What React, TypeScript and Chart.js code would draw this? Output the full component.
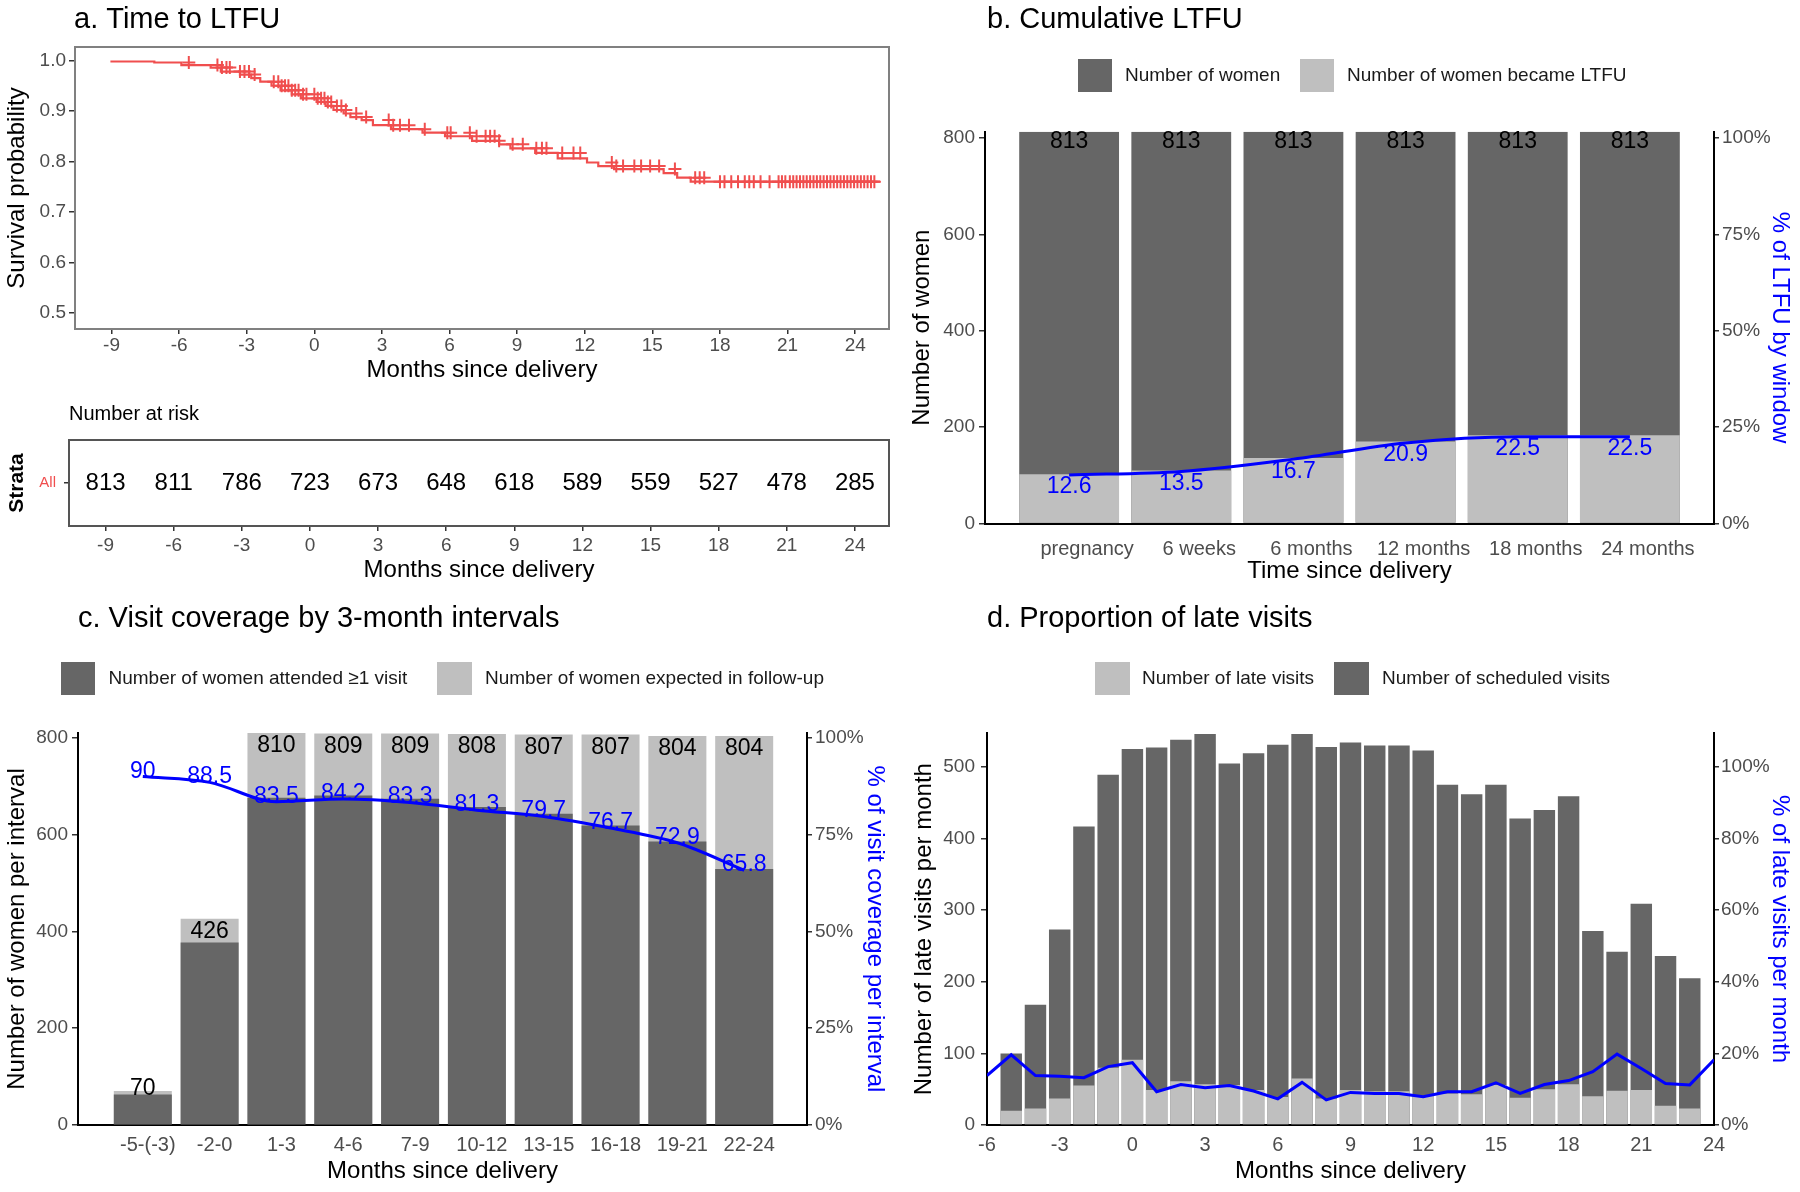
import React, { useEffect, useRef } from "react";
import { Chart, registerables } from "chart.js";
Chart.register(...registerables);

const FONT = "'Liberation Sans', Arial, Helvetica, sans-serif";
Chart.defaults.font.family = FONT;

// ---------------- a. Time to LTFU ----------------
const survTimes = [-9, -7.1, -5.9, -4.6, -4.15, -3.3, -2.8, -2.4, -1.9, -1.5, -1.0, -0.6, 0.1, 0.5, 0.85, 1.3, 1.6, 2.1, 2.6, 3.4, 4.8, 5.8, 7.0, 8.2, 8.7, 9.8, 10.8, 12.1, 12.6, 13.3, 15.5, 16.1, 16.7, 17.6, 25.1];
const survProb = [1.0, 0.998, 0.996, 0.991, 0.986, 0.978, 0.972, 0.965, 0.958, 0.95, 0.941, 0.933, 0.925, 0.918, 0.91, 0.902, 0.895, 0.888, 0.882, 0.872, 0.864, 0.857, 0.85, 0.841, 0.834, 0.826, 0.817, 0.806, 0.798, 0.791, 0.785, 0.777, 0.768, 0.76, 0.76];
const censorTimes = [-5.57, -4.3, -4.1, -3.9, -3.75, -3.3, -3.1, -2.9, -2.65, -1.8, -1.6, -1.45, -1.3, -1.15, -1.0, -0.85, -0.7, -0.5, -0.35, 0.0, 0.15, 0.3, 0.45, 0.6, 0.75, 1.0, 1.2, 1.4, 1.86, 2.3, 3.3, 3.5, 3.8, 4.2, 4.9, 5.9, 6.05, 6.9, 7.2, 7.6, 7.8, 8.0, 8.2, 8.8, 9.25, 9.85, 10.1, 10.3, 11.0, 11.5, 11.8, 13.2, 13.4, 13.7, 14.2, 14.5, 14.9, 15.3, 16.0, 16.9, 17.1, 17.3, 18.0, 18.2, 18.5, 18.8, 19.1, 19.3, 19.5, 19.8, 20.2, 20.6, 20.75, 20.9, 21.1, 21.25, 21.4, 21.55, 21.7, 21.85, 22.0, 22.15, 22.3, 22.45, 22.6, 22.75, 22.9, 23.05, 23.2, 23.35, 23.5, 23.65, 23.8, 23.95, 24.1, 24.25, 24.4, 24.55, 24.7, 24.85];
const monthTicksA = [-9, -6, -3, 0, 3, 6, 9, 12, 15, 18, 21, 24];
const survTicks = [0.5, 0.6, 0.7, 0.8, 0.9, 1.0];
const riskTimes = [-9, -6, -3, 0, 3, 6, 9, 12, 15, 18, 21, 24];
const riskCounts = [813, 811, 786, 723, 673, 648, 618, 589, 559, 527, 478, 285];

// ---------------- b. Cumulative LTFU ----------------
const ltfuWindows = ["pregnancy", "6 weeks", "6 months", "12 months", "18 months", "24 months"];
const ltfuTotal = [813, 813, 813, 813, 813, 813];
const ltfuCount = [102, 110, 136, 170, 183, 183];
const ltfuPct = [12.6, 13.5, 16.7, 20.9, 22.5, 22.5];
const ticksB = [0, 200, 400, 600, 800];
const pctTicksB = [0, 25, 50, 75, 100];

// ---------------- c. Visit coverage ----------------
const intervalLabels = ["-5-(-3)", "-2-0", "1-3", "4-6", "7-9", "10-12", "13-15", "16-18", "19-21", "22-24"];
const expectedWomen = [70, 426, 810, 809, 809, 808, 807, 807, 804, 804];
const attendedWomen = [63, 377, 676, 681, 674, 657, 643, 619, 586, 529];
const coveragePct = [90, 88.5, 83.5, 84.2, 83.3, 81.3, 79.7, 76.7, 72.9, 65.8];
const ticksC = [0, 200, 400, 600, 800];
const pctTicksC = [0, 25, 50, 75, 100];

// ---------------- d. Late visits ----------------
const visitMonths = [-5, -4, -3, -2, -1, 0, 1, 2, 3, 4, 5, 6, 7, 8, 9, 10, 11, 12, 13, 14, 15, 16, 17, 18, 19, 20, 21, 22, 23];
const scheduledVisits = [100, 168, 273, 417, 489, 525, 527, 538, 546, 505, 519, 531, 546, 528, 534, 530, 530, 523, 475, 462, 475, 428, 440, 459, 271, 242, 309, 236, 205];
const lateVisits = [20, 23, 37, 55, 80, 91, 49, 61, 57, 56, 49, 39, 65, 37, 49, 47, 47, 41, 44, 43, 56, 38, 50, 57, 40, 48, 49, 27, 23];
const pctMonths = [-6, -5, -4, -3, -2, -1, 0, 1, 2, 3, 4, 5, 6, 7, 8, 9, 10, 11, 12, 13, 14, 15, 16, 17, 18, 19, 20, 21, 22, 23, 24];
const latePct = [13.8, 19.6, 13.8, 13.6, 13.2, 16.3, 17.4, 9.3, 11.3, 10.4, 11.0, 9.5, 7.3, 11.9, 7.0, 9.1, 8.8, 8.8, 7.9, 9.3, 9.3, 11.8, 8.8, 11.3, 12.4, 14.9, 19.8, 15.8, 11.6, 11.2, 18.2];
const monthTicksD = [-6, -3, 0, 3, 6, 9, 12, 15, 18, 21, 24];
const ticksD = [0, 100, 200, 300, 400, 500];
const pctTicksD = [0, 20, 40, 60, 80, 100];

// ---------------- styles ----------------
const DARK = "#666666";
const LIGHT = "#BFBFBF";
const BLUE = "#0000FF";
const RED = "#F04E4E";
const TICK = "#4D4D4D";

const fixW = (w: number) => (s: any) => { s.width = w; };
const fixH = (h: number) => (s: any) => { s.height = h; };
const setTicks = (vals: number[]) => (s: any) => { s.ticks = vals.map((v) => ({ value: v })); };
const tickGrid = (len: number) => ({ display: true, drawOnChartArea: false, drawTicks: true, tickLength: len, color: "#333333", lineWidth: 1.5 });
const noGrid = { display: false, drawTicks: false };
const axisBorder = { display: true, color: "#000000", width: 2 };

function survAt(t: number) {
  let s = survProb[0];
  for (let i = 0; i < survTimes.length; i++) if (survTimes[i] <= t) s = survProb[i];
  return s;
}

function text(ctx: any, s: string, x: number, y: number, size: number, color: string, align = "left", baseline = "middle", weight = "normal") {
  ctx.save();
  ctx.font = `${weight} ${size}px ${FONT}`;
  ctx.fillStyle = color;
  ctx.textAlign = align;
  ctx.textBaseline = baseline;
  ctx.fillText(s, x, y);
  ctx.restore();
}

function drawLegend(chart: any, items: { ds: number; box: number[]; tx: number }[]) {
  const ctx = chart.ctx;
  items.forEach((it) => {
    const ds = chart.data.datasets[it.ds];
    ctx.save();
    ctx.fillStyle = ds.backgroundColor;
    ctx.fillRect(it.box[0], it.box[1], it.box[2], it.box[3]);
    ctx.restore();
    text(ctx, ds.label, it.tx, it.box[1] + it.box[3] / 2, 19, "#1a1a1a");
  });
}

const baseOpts = (padding: any) => ({
  responsive: false,
  animation: false,
  devicePixelRatio: 1,
  layout: { padding },
  plugins: { legend: { display: false }, tooltip: { enabled: false }, title: { display: false } },
});

// ---------- a: survival ----------
function makeA(): any {
  return {
    type: "line",
    data: {
      datasets: [
        { label: "All", data: survTimes.map((t, i) => ({ x: t, y: survProb[i] })), stepped: "after", borderColor: RED, borderWidth: 2.2, pointRadius: 0, fill: false },
        { label: "censor", data: censorTimes.map((t) => ({ x: t, y: survAt(t) })), showLine: false, pointStyle: "cross", pointRadius: 6.5, pointBorderWidth: 2, pointBorderColor: RED, borderColor: RED, backgroundColor: RED },
      ],
    },
    options: {
      ...baseOpts({ left: 0, top: 47, right: 11, bottom: 0 }),
      scales: {
        x: {
          type: "linear", min: -10.62, max: 25.5, afterBuildTicks: setTicks(monthTicksA), afterFit: fixH(63),
          grid: tickGrid(5), border: { display: false },
          ticks: { font: { size: 19 }, color: TICK, padding: 0, maxRotation: 0, autoSkip: false },
          title: { display: true, text: "Months since delivery", font: { size: 24 }, color: "#000", padding: { top: 0, bottom: 7.6 } },
        },
        y: {
          type: "linear", min: 0.4683, max: 1.0267, afterBuildTicks: setTicks(survTicks), afterFit: fixW(75),
          grid: tickGrid(6), border: { display: false },
          ticks: { font: { size: 19 }, color: TICK, padding: 3, callback: (v: any) => Number(v).toFixed(1) },
          title: { display: true, text: "Survival probability", font: { size: 24 }, color: "#000", padding: { top: 2.6, bottom: 0 } },
        },
      },
    },
    plugins: [{
      id: "decorA",
      afterDraw(chart: any) {
        const { ctx, chartArea: a } = chart;
        ctx.save();
        ctx.strokeStyle = "#808080";
        ctx.lineWidth = 2;
        ctx.strokeRect(a.left, a.top, a.right - a.left, a.bottom - a.top);
        ctx.restore();
        text(ctx, "a. Time to LTFU", 74, 20, 29, "#000");
      },
    }],
  };
}

// ---------- a: risk table ----------
function makeT(): any {
  return {
    type: "scatter",
    data: { datasets: [{ label: "risk", data: riskTimes.map((t) => ({ x: t, y: "All" })), pointRadius: 0 }] },
    options: {
      ...baseOpts({ left: 0, top: 48, right: 11, bottom: 0 }),
      scales: {
        x: {
          type: "linear", min: -10.61, max: 25.5, afterBuildTicks: setTicks(monthTicksA), afterFit: fixH(70),
          grid: tickGrid(5), border: { display: false },
          ticks: { font: { size: 19 }, color: TICK, padding: 3, maxRotation: 0, autoSkip: false },
          title: { display: true, text: "Months since delivery", font: { size: 24 }, color: "#000", padding: { top: 0, bottom: 11 } },
        },
        y: {
          type: "category", labels: ["All"], offset: true, afterFit: fixW(69),
          grid: tickGrid(5), border: { display: false },
          ticks: { font: { size: 15 }, color: RED, padding: 8 },
          title: { display: true, text: "Strata", font: { size: 21, weight: "bold" }, color: "#000", padding: { top: 4.4, bottom: 0 } },
        },
      },
    },
    plugins: [{
      id: "decorT",
      afterDraw(chart: any) {
        const { ctx, chartArea: a } = chart;
        ctx.save();
        ctx.strokeStyle = "#555555";
        ctx.lineWidth = 2;
        ctx.strokeRect(a.left, a.top, a.right - a.left, a.bottom - a.top);
        ctx.restore();
        const meta = chart.getDatasetMeta(0);
        meta.data.forEach((pt: any, i: number) => text(ctx, String(riskCounts[i]), pt.x, pt.y, 24, "#000", "center", "middle"));
        text(ctx, "Number at risk", 69, 22, 20, "#000");
      },
    }],
  };
}

// ---------- b ----------
function makeB(): any {
  return {
    type: "bar",
    data: {
      datasets: [
        { type: "line", label: "% of LTFU", data: ltfuPct.map((p, i) => ({ x: i, y: p })), yAxisID: "y1", borderColor: BLUE, borderWidth: 3, pointRadius: 0, tension: 0.4, cubicInterpolationMode: "monotone", order: 0 },
        { label: "Number of women", data: ltfuTotal.map((v, i) => ({ x: i, y: v })), backgroundColor: DARK, order: 3 },
        { label: "Number of women became LTFU", data: ltfuCount.map((v, i) => ({ x: i, y: v })), backgroundColor: LIGHT, order: 2 },
      ],
    },
    options: {
      ...baseOpts({ left: 0, top: 131.7, right: 0, bottom: 0 }),
      datasets: { bar: { grouped: false, barPercentage: 1, categoryPercentage: 0.89 } },
      scales: {
        x: {
          type: "linear", min: -0.75, max: 5.75, offset: false, z: 1, afterBuildTicks: setTicks(ltfuWindows.map((_, i) => i)), afterFit: fixH(72.5),
          grid: noGrid, border: axisBorder,
          ticks: { font: { size: 20 }, color: TICK, padding: 13.5, labelOffset: 18, maxRotation: 0, autoSkip: false, callback: (v: any) => ltfuWindows[v] ?? "" },
          title: { display: true, text: "Time since delivery", font: { size: 24 }, color: "#000", padding: { top: 0, bottom: 10.6 } },
        },
        y: {
          type: "linear", position: "left", min: 0, max: 813, afterBuildTicks: setTicks(ticksB), afterFit: fixW(85),
          grid: tickGrid(6), border: axisBorder,
          ticks: { font: { size: 19 }, color: TICK, padding: 4 },
          title: { display: true, text: "Number of women", font: { size: 24 }, color: "#000", padding: { top: 7.6, bottom: 0 } },
        },
        y1: {
          type: "linear", position: "right", min: 0, max: 101.625, afterBuildTicks: setTicks(pctTicksB), afterFit: fixW(86),
          grid: tickGrid(5), border: axisBorder,
          ticks: { font: { size: 19 }, color: TICK, padding: 3, callback: (v: any) => v + "%" },
          title: { display: true, text: "% of LTFU by window", font: { size: 24 }, color: BLUE, padding: { top: 5.6, bottom: 0 } },
        },
      },
    },
    plugins: [{
      id: "decorB",
      afterDatasetsDraw(chart: any) {
        const ctx = chart.ctx;
        chart.getDatasetMeta(1).data.forEach((el: any, i: number) => text(ctx, String(ltfuTotal[i]), el.x, el.y + 16.5, 23, "#000", "center", "alphabetic"));
        chart.getDatasetMeta(0).data.forEach((el: any, i: number) => text(ctx, String(ltfuPct[i]), el.x, el.y + 18.5, 23, BLUE, "center", "alphabetic"));
      },
      afterDraw(chart: any) {
        text(chart.ctx, "b. Cumulative LTFU", 87, 20, 29, "#000");
        drawLegend(chart, [{ ds: 1, box: [178, 59, 34, 33], tx: 225 }, { ds: 2, box: [400, 59, 34, 33], tx: 447 }]);
      },
    }],
  };
}

// ---------- c ----------
function makeC(): any {
  return {
    type: "bar",
    data: {
      datasets: [
        { type: "line", label: "% of visit coverage", data: coveragePct.map((p, i) => ({ x: i, y: p })), yAxisID: "y1", borderColor: BLUE, borderWidth: 3, pointRadius: 0, tension: 0.4, cubicInterpolationMode: "monotone", order: 0 },
        { label: "Number of women attended \u22651 visit", data: attendedWomen.map((v, i) => ({ x: i, y: v })), backgroundColor: DARK, order: 2 },
        { label: "Number of women expected in follow-up", data: expectedWomen.map((v, i) => ({ x: i, y: v })), backgroundColor: LIGHT, order: 3 },
      ],
    },
    options: {
      ...baseOpts({ left: 0, top: 137, right: 0, bottom: 0 }),
      datasets: { bar: { grouped: false, barPercentage: 1, categoryPercentage: 0.868 } },
      scales: {
        x: {
          type: "linear", min: -0.97, max: 9.94, offset: false, z: 1, afterBuildTicks: setTicks(intervalLabels.map((_, i) => i)), afterFit: fixH(67),
          grid: noGrid, border: axisBorder,
          ticks: { font: { size: 20 }, color: TICK, padding: 8, labelOffset: 5, maxRotation: 0, autoSkip: false, callback: (v: any) => intervalLabels[v] ?? "" },
          title: { display: true, text: "Months since delivery", font: { size: 24 }, color: "#000", padding: { top: 0, bottom: 6.6 } },
        },
        y: {
          type: "linear", position: "left", min: 0, max: 810, afterBuildTicks: setTicks(ticksC), afterFit: fixW(78),
          grid: tickGrid(6), border: axisBorder,
          ticks: { font: { size: 19 }, color: TICK, padding: 4 },
          title: { display: true, text: "Number of women per interval", font: { size: 24 }, color: "#000", padding: { top: 2.6, bottom: 0 } },
        },
        y1: {
          type: "linear", position: "right", min: 0, max: 101.25, afterBuildTicks: setTicks(pctTicksC), afterFit: fixW(93),
          grid: tickGrid(5), border: axisBorder,
          ticks: { font: { size: 19 }, color: TICK, padding: 3, callback: (v: any) => v + "%" },
          title: { display: true, text: "% of visit coverage per interval", font: { size: 24 }, color: BLUE, padding: { top: 10.6, bottom: 0 } },
        },
      },
    },
    plugins: [{
      id: "decorC",
      afterDatasetsDraw(chart: any) {
        const ctx = chart.ctx;
        const ys = chart.scales.y;
        chart.getDatasetMeta(2).data.forEach((el: any, i: number) => {
          const yv = Math.max(expectedWomen[i] - 40, attendedWomen[i]);
          text(ctx, String(expectedWomen[i]), el.x, ys.getPixelForValue(yv), 23, "#000", "center", "alphabetic");
        });
        chart.getDatasetMeta(0).data.forEach((el: any, i: number) => text(ctx, String(coveragePct[i]), el.x, el.y + 1, 23, BLUE, "center", "alphabetic"));
      },
      afterDraw(chart: any) {
        text(chart.ctx, "c. Visit coverage by 3-month intervals", 78, 23, 29, "#000");
        drawLegend(chart, [{ ds: 1, box: [61, 66, 34, 33], tx: 108.5 }, { ds: 2, box: [437, 66, 35, 33], tx: 485 }]);
      },
    }],
  };
}

// ---------- d ----------
function makeD(): any {
  return {
    type: "bar",
    data: {
      datasets: [
        { type: "line", label: "% of late visits", data: latePct.map((p, i) => ({ x: pctMonths[i], y: p })), yAxisID: "y1", borderColor: BLUE, borderWidth: 3, pointRadius: 0, tension: 0, order: 0 },
        { label: "Number of late visits", data: lateVisits.map((v, i) => ({ x: visitMonths[i], y: v })), backgroundColor: LIGHT, order: 2 },
        { label: "Number of scheduled visits", data: scheduledVisits.map((v, i) => ({ x: visitMonths[i], y: v })), backgroundColor: DARK, order: 3 },
      ],
    },
    options: {
      ...baseOpts({ left: 0, top: 137.3, right: 0, bottom: 0 }),
      datasets: { bar: { grouped: false, barPercentage: 1, categoryPercentage: 0.885 } },
      scales: {
        x: {
          type: "linear", min: -6, max: 24, offset: false, z: 1, afterBuildTicks: setTicks(monthTicksD), afterFit: fixH(67),
          grid: noGrid, border: axisBorder,
          ticks: { font: { size: 20 }, color: TICK, padding: 8, maxRotation: 0, autoSkip: false },
          title: { display: true, text: "Months since delivery", font: { size: 24 }, color: "#000", padding: { top: 0, bottom: 6.6 } },
        },
        y: {
          type: "linear", position: "left", min: 0, max: 547, afterBuildTicks: setTicks(ticksD), afterFit: fixW(87),
          grid: tickGrid(6), border: axisBorder,
          ticks: { font: { size: 19 }, color: TICK, padding: 6 },
          title: { display: true, text: "Number of late visits per month", font: { size: 24 }, color: "#000", padding: { top: 9.6, bottom: 0 } },
        },
        y1: {
          type: "linear", position: "right", min: 0, max: 109.4, afterBuildTicks: setTicks(pctTicksD), afterFit: fixW(86),
          grid: tickGrid(5), border: axisBorder,
          ticks: { font: { size: 19 }, color: TICK, padding: 2, callback: (v: any) => v + "%" },
          title: { display: true, text: "% of late visits per month", font: { size: 24 }, color: BLUE, padding: { top: 5.6, bottom: 0 } },
        },
      },
    },
    plugins: [{
      id: "decorD",
      afterDraw(chart: any) {
        text(chart.ctx, "d. Proportion of late visits", 87, 23, 29, "#000");
        drawLegend(chart, [{ ds: 1, box: [195, 66, 35, 33], tx: 242 }, { ds: 2, box: [434, 66, 35, 33], tx: 482 }]);
      },
    }],
  };
}

function ChartCanvas({ left, top, width, height, make }: { left: number; top: number; width: number; height: number; make: () => any }) {
  const ref = useRef<HTMLCanvasElement>(null);
  useEffect(() => {
    const chart = new Chart(ref.current as HTMLCanvasElement, make());
    return () => chart.destroy();
  }, []);
  return <canvas ref={ref} width={width} height={height} style={{ position: "absolute", left, top, width, height }} />;
}

export default function App() {
  return (
    <div style={{ position: "absolute", left: 0, top: 0, width: 1800, height: 1192, background: "#ffffff", overflow: "hidden" }}>
      <ChartCanvas left={0} top={0} width={900} height={392} make={makeA} />
      <ChartCanvas left={0} top={392} width={900} height={204} make={makeT} />
      <ChartCanvas left={900} top={0} width={900} height={596} make={makeB} />
      <ChartCanvas left={0} top={596} width={900} height={596} make={makeC} />
      <ChartCanvas left={900} top={596} width={900} height={596} make={makeD} />
    </div>
  );
}
